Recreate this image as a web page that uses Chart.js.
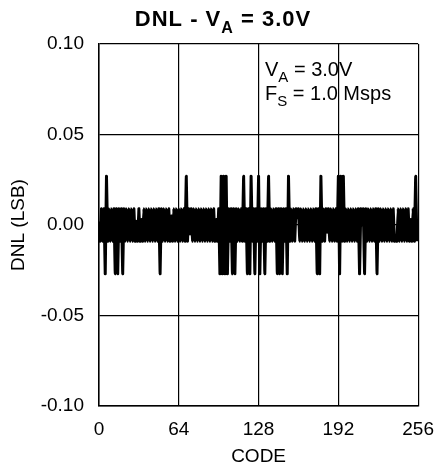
<!DOCTYPE html>
<html>
<head>
<meta charset="utf-8">
<script src="https://cdn.jsdelivr.net/npm/chart.js@4/dist/chart.umd.min.js"></script>
<style>
  html, body { margin: 0; padding: 0; background: #fff; }
  canvas { display: block; }
</style>
</head>
<body>
<canvas id="dnl" width="446" height="473" style="width:446px;height:473px"></canvas>
<script>
// Output codes 0..255 of the 8-bit converter
const codes = Array.from({ length: 256 }, (_, i) => i);

// Differential non-linearity per code, in LSB
const dnl = [
  0.002, -0.009, 0.009, -0.009, 0.009, -0.027, 0.027, -0.009, 0.009, -0.009, 0.009, -0.009, 0.009, -0.027, 0.009, -0.027,
  0.009, -0.009, 0.009, -0.027, 0.009, -0.009, 0.009, -0.009, 0.009, -0.009, 0.009, -0.009, 0.009, -0.009, 0.002, -0.009,
  0.009, -0.009, 0.003, -0.009, 0.009, -0.009, 0.009, -0.009, 0.009, -0.009, 0.009, -0.009, 0.009, -0.009, 0.009, -0.009,
  0.009, -0.027, 0.009, -0.009, 0.009, -0.009, 0.009, -0.009, 0.009, -0.009, 0.005, -0.009, 0.009, -0.009, 0.009, -0.009,
  0.009, -0.009, 0.009, -0.009, 0.009, -0.009, 0.027, -0.009, 0.009, -0.005, 0.009, -0.009, 0.009, -0.009, 0.009, -0.009,
  0.009, -0.009, 0.009, -0.009, 0.009, -0.009, 0.009, -0.009, 0.009, -0.009, 0.009, -0.009, 0.009, -0.009, 0.003, -0.009,
  0.009, -0.027, 0.027, -0.027, 0.027, -0.027, 0.027, -0.027, 0.009, -0.009, 0.009, -0.027, 0.009, -0.027, 0.009, -0.009,
  0.009, -0.009, 0.009, -0.009, 0.027, -0.009, 0.009, -0.027, 0.009, -0.027, 0.027, -0.009, 0.009, -0.027, 0.009, -0.009,
  0.027, -0.027, 0.009, -0.009, 0.009, -0.027, 0.009, -0.009, 0.027, -0.009, 0.009, -0.009, 0.009, -0.009, 0.009, -0.027,
  0.009, -0.027, 0.009, -0.027, 0.009, -0.009, 0.009, -0.027, 0.027, -0.009, 0.009, -0.009, 0.009, -0.009, 0.009, 0.004,
  0.009, -0.009, 0.009, -0.009, 0.009, -0.009, 0.009, -0.009, 0.009, -0.009, 0.009, -0.009, 0.009, -0.009, 0.009, -0.027,
  0.009, -0.027, 0.027, -0.009, 0.009, -0.009, 0.009, -0.004, 0.009, -0.009, 0.009, -0.009, 0.009, -0.009, 0.009, -0.009,
  0.027, -0.027, 0.027, -0.009, 0.027, -0.009, 0.009, -0.009, 0.009, -0.009, 0.009, -0.009, 0.009, -0.009, 0.009, -0.009,
  0.009, -0.027, 0.009, 0.000, 0.009, -0.027, 0.009, -0.009, 0.009, -0.009, 0.009, -0.009, 0.009, -0.009, 0.009, -0.027,
  0.009, -0.009, 0.009, -0.009, 0.009, -0.009, 0.009, -0.009, 0.009, -0.009, 0.009, -0.009, 0.009, -0.009, -0.006, -0.009,
  0.009, -0.009, 0.009, -0.009, 0.009, -0.009, 0.009, -0.009, 0.009, -0.009, 0.003, -0.009, 0.009, -0.009, 0.027, -0.009
];

// Axis tick values
const xTicks = [0, 64, 128, 192, 256];
const yTicks = [-0.10, -0.05, 0.00, 0.05, 0.10];

const FONT = '"Liberation Sans", Arial, Helvetica, sans-serif';

// Draws a run of text pieces, some of them as subscripts
function drawRich(ctx, parts, x, y, size, weight, align, spacing) {
  const subSize = Math.round(size * 0.74);
  ctx.letterSpacing = (spacing || 0) + 'px';
  const widths = parts.map(p => {
    ctx.font = `${weight} ${p.sub ? subSize : size}px ${FONT}`;
    return ctx.measureText(p.t).width;
  });
  const total = widths.reduce((a, b) => a + b, 0);
  let cx = align === 'center' ? x - total / 2 : x;
  ctx.textAlign = 'left';
  ctx.textBaseline = 'alphabetic';
  ctx.fillStyle = '#000';
  parts.forEach((p, i) => {
    ctx.font = `${weight} ${p.sub ? subSize : size}px ${FONT}`;
    ctx.fillText(p.t, cx, p.sub ? y + size * 0.3 : y);
    cx += widths[i];
  });
  ctx.letterSpacing = '0px';
}

const captions = {
  id: 'captions',
  afterDraw(chart) {
    const ctx = chart.ctx;
    ctx.save();
    drawRich(ctx, [{ t: 'DNL - V' }, { t: 'A', sub: true }, { t: ' = 3.0V' }], 223, 26, 22, 'bold', 'center', 1);
    drawRich(ctx, [{ t: 'V' }, { t: 'A', sub: true }, { t: ' = 3.0V' }], 265, 76, 20, 'normal', 'left', 0);
    drawRich(ctx, [{ t: 'F' }, { t: 'S', sub: true }, { t: ' = 1.0 Msps' }], 265, 100, 20, 'normal', 'left', 0);
    ctx.restore();
  }
};

const tickFont = { family: FONT, size: 19 };

new Chart(document.getElementById('dnl'), {
  type: 'line',
  data: {
    datasets: [{
      data: codes.map((c, i) => ({ x: c, y: dnl[i] })),
      borderColor: '#000',
      borderWidth: 3,
      borderJoinStyle: 'round',
      borderCapStyle: 'butt',
      pointRadius: 0,
      // a tiny tension keeps every vertex in the path (no pixel-merging fast path)
      tension: 0.0001,
      fill: false
    }]
  },
  options: {
    responsive: false,
    animation: false,
    layout: { padding: { top: 44, right: 18, left: 0, bottom: 0 } },
    plugins: {
      legend: { display: false },
      tooltip: { enabled: false },
      title: { display: false }
    },
    scales: {
      x: {
        type: 'linear',
        min: 0,
        max: 256,
        afterBuildTicks(scale) { scale.ticks = xTicks.map(v => ({ value: v })); },
        afterFit(scale) { scale.height = 67; },
        grid: { color: '#000', lineWidth: 1.2, drawTicks: false },
        border: { color: '#000', width: 1.5 },
        ticks: { font: tickFont, color: '#000', padding: 12, maxRotation: 0, autoSkip: false },
        title: { display: true, text: 'CODE', font: tickFont, color: '#000', padding: { top: 0, bottom: 5 } }
      },
      y: {
        type: 'linear',
        min: -0.1,
        max: 0.1,
        afterBuildTicks(scale) { scale.ticks = yTicks.map(v => ({ value: v })); },
        afterFit(scale) { scale.width = 99; },
        grid: { color: '#000', lineWidth: 1.2, drawTicks: false },
        border: { color: '#000', width: 1.5 },
        ticks: {
          font: tickFont, color: '#000', padding: 15,
          callback: v => (Math.abs(v) < 1e-9 ? 0 : v).toFixed(2)
        },
        title: { display: true, text: 'DNL (LSB)', font: tickFont, color: '#000', padding: { top: 7, bottom: 0 } }
      }
    }
  },
  plugins: [captions]
});
</script>
</body>
</html>
